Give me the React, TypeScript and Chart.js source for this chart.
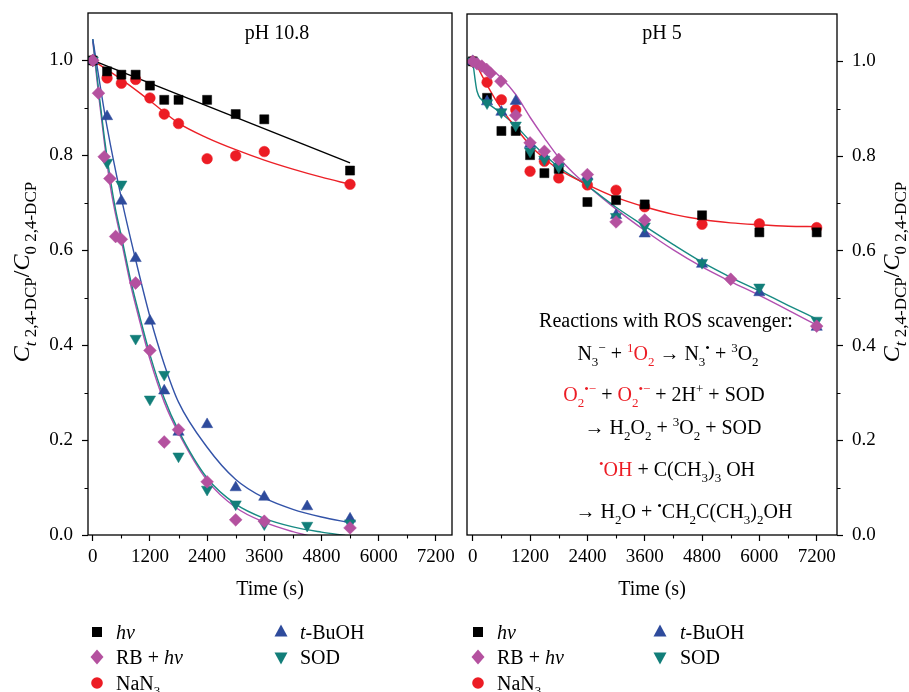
import React, { useEffect, useRef } from 'react';
import { Chart, registerables } from 'chart.js';
Chart.register(...registerables);

const W = 909;
const H = 692;
const SERIF = '"Liberation Serif", "DejaVu Serif", "Times New Roman", serif';

// ---------- axis ticks ----------
const xTicks = [0, 1200, 2400, 3600, 4800, 6000, 7200];
const xMinorTicks = [600, 1800, 3000, 4200, 5400, 6600];
const yTicks = [0, 0.2, 0.4, 0.6, 0.8, 1.0];
const yMinorTicks = [0.1, 0.3, 0.5, 0.7, 0.9];

// ---------- pH 10.8 (left panel) ----------
const hvTimeA = [0, 300, 600, 900, 1200, 1500, 1800, 2400, 3000, 3600, 5400];
const hvA = [1.0, 0.977, 0.97, 0.97, 0.947, 0.917, 0.917, 0.917, 0.887, 0.876, 0.768];
const nan3TimeA = [0, 300, 600, 900, 1200, 1500, 1800, 2400, 3000, 3600, 5400];
const nan3A = [1.0, 0.963, 0.952, 0.96, 0.921, 0.887, 0.867, 0.793, 0.799, 0.808, 0.739];
const rbTimeA = [0, 120, 240, 360, 480, 600, 900, 1200, 1500, 1800, 2400, 3000, 3600, 5400];
const rbA = [1.0, 0.931, 0.797, 0.751, 0.629, 0.623, 0.531, 0.389, 0.196, 0.222, 0.112, 0.032, 0.029, 0.015];
const tbuTimeA = [0, 300, 600, 900, 1200, 1500, 1800, 2400, 3000, 3600, 4500, 5400];
const tbuA = [1.0, 0.882, 0.704, 0.583, 0.451, 0.304, 0.217, 0.233, 0.1, 0.08, 0.06, 0.034];
const sodTimeA = [0, 300, 600, 900, 1200, 1500, 1800, 2400, 3000, 3600, 4500, 5400];
const sodA = [1.0, 0.785, 0.739, 0.414, 0.286, 0.338, 0.166, 0.096, 0.065, 0.023, 0.02, 0.025];

// fitted curves, pH 10.8
const hvFitTimeA = [0, 5400];
const hvFitA = [1.0, 0.784];
const nan3FitTimeA = [0, 600, 1200, 1800, 2400, 3000, 3600, 4200, 4800, 5400];
const nan3FitA = [1.0, 0.96, 0.915, 0.868, 0.837, 0.812, 0.79, 0.771, 0.754, 0.739];
const tbuFitTimeA = [0, 150, 300, 600, 900, 1200, 1500, 1800, 2400, 3000, 3600, 4200, 4800, 5400];
const tbuFitA = [1.045, 0.95, 0.86, 0.71, 0.58, 0.46, 0.36, 0.28, 0.185, 0.117, 0.078, 0.054, 0.038, 0.026];
const rbFitTimeA = [0, 120, 240, 360, 480, 600, 800, 1000, 1200, 1500, 1800, 2400, 3000, 3600, 4200, 4600];
const rbFitA = [1.04, 0.93, 0.83, 0.74, 0.675, 0.62, 0.525, 0.445, 0.37, 0.28, 0.215, 0.115, 0.058, 0.027, 0.007, -0.003];
const sodFitTimeA = [0, 120, 240, 360, 480, 600, 800, 1000, 1200, 1500, 1800, 2400, 3000, 3600, 4200, 4800, 5300];
const sodFitA = [1.045, 0.94, 0.84, 0.755, 0.685, 0.63, 0.535, 0.455, 0.38, 0.288, 0.22, 0.12, 0.065, 0.035, 0.017, 0.006, -0.001];

// ---------- pH 5 (right panel) ----------
const hvTimeB = [0, 300, 600, 900, 1200, 1500, 1800, 2400, 3000, 3600, 4800, 6000, 7200];
const hvB = [1.0, 0.923, 0.853, 0.853, 0.802, 0.764, 0.773, 0.703, 0.707, 0.698, 0.675, 0.639, 0.639];
const nan3TimeB = [0, 300, 600, 900, 1200, 1500, 1800, 2400, 3000, 3600, 4800, 6000, 7200];
const nan3B = [1.0, 0.956, 0.919, 0.898, 0.768, 0.789, 0.754, 0.739, 0.728, 0.693, 0.656, 0.657, 0.649];
const rbTimeB = [0, 90, 190, 290, 370, 590, 900, 1200, 1500, 1800, 2400, 3000, 3600, 5400, 7200];
const rbB = [1.0, 0.995, 0.99, 0.983, 0.975, 0.958, 0.886, 0.828, 0.81, 0.793, 0.761, 0.661, 0.665, 0.54, 0.441];
const tbuTimeB = [0, 300, 600, 900, 1200, 1500, 1800, 2400, 3000, 3600, 4800, 6000, 7200];
const tbuB = [1.0, 0.915, 0.893, 0.916, 0.825, 0.8, 0.785, 0.758, 0.675, 0.636, 0.572, 0.512, 0.439];
const sodTimeB = [0, 300, 600, 900, 1200, 1500, 1800, 2400, 3000, 3600, 4800, 6000, 7200];
const sodB = [1.0, 0.912, 0.893, 0.865, 0.81, 0.793, 0.777, 0.745, 0.672, 0.652, 0.575, 0.523, 0.453];

// fitted curves, pH 5
const nan3FitTimeB = [0, 300, 600, 900, 1200, 1500, 1800, 2400, 3000, 3600, 4200, 4800, 5400, 6000, 6600, 7200];
const nan3FitB = [1.008, 0.95, 0.9, 0.86, 0.823, 0.795, 0.772, 0.74, 0.713, 0.693, 0.677, 0.666, 0.659, 0.655, 0.652, 0.651];
const rbFitTimeB = [0, 300, 600, 900, 1200, 1500, 1800, 2100, 2400, 3000, 3600, 4200, 4800, 5400, 6000, 6600, 7200];
const rbFitB = [1.005, 0.99, 0.965, 0.93, 0.882, 0.838, 0.797, 0.765, 0.738, 0.688, 0.643, 0.602, 0.566, 0.535, 0.506, 0.475, 0.443];
const sodFitTimeB = [0, 90, 270, 600, 900, 1200, 1500, 1800, 2400, 3000, 3600, 4200, 4800, 5400, 6000, 6600, 7200];
const sodFitB = [1.0, 0.937, 0.915, 0.89, 0.864, 0.832, 0.803, 0.777, 0.737, 0.692, 0.652, 0.613, 0.576, 0.544, 0.515, 0.485, 0.456];

// ---------- colours ----------
const C_BLACK = '#000000';
const C_RED = '#ec1c24';
const C_PURPLE = '#b4519f';
const C_BLUE = '#2e4b9c';
const C_TEAL = '#127e79';
const L_RED = '#ec2027';
const L_PURPLE = '#b14fb0';
const L_BLUE = '#3353a8';
const L_TEAL = '#178a83';

const pts = (xs: number[], ys: number[]) => xs.map((x, i) => ({ x, y: ys[i] }));

const marker = (label: string, xs: number[], ys: number[], style: string, color: string, r: number, order: number, rot = 0) => ({
  label,
  data: pts(xs, ys),
  showLine: false,
  pointStyle: style,
  pointRadius: r,
  pointHoverRadius: r,
  pointBackgroundColor: color,
  pointBorderColor: color,
  pointBorderWidth: 0.5,
  pointRotation: rot,
  order,
});

const fit = (label: string, xs: number[], ys: number[], color: string, order: number) => ({
  label,
  data: pts(xs, ys),
  showLine: true,
  borderColor: color,
  borderWidth: 1.4,
  pointRadius: 0,
  pointHoverRadius: 0,
  cubicInterpolationMode: 'monotone',
  fill: false,
  order,
});

const datasetsA = [
  marker('RB + hν', rbTimeA, rbA, 'rectRot', C_PURPLE, 6.4, 1),
  marker('SOD', sodTimeA, sodA, 'triangle', C_TEAL, 6.5, 2, 180),
  marker('t-BuOH', tbuTimeA, tbuA, 'triangle', C_BLUE, 6.5, 3),
  marker('hν', hvTimeA, hvA, 'rect', C_BLACK, 6.4, 4),
  marker('NaN3', nan3TimeA, nan3A, 'circle', C_RED, 5.3, 5),
  fit('hν fit', hvFitTimeA, hvFitA, C_BLACK, 10),
  fit('NaN3 fit', nan3FitTimeA, nan3FitA, L_RED, 11),
  fit('t-BuOH fit', tbuFitTimeA, tbuFitA, L_BLUE, 12),
  fit('SOD fit', sodFitTimeA, sodFitA, L_TEAL, 13),
  fit('RB fit', rbFitTimeA, rbFitA, L_PURPLE, 14),
];

const datasetsB = [
  marker('RB + hν', rbTimeB, rbB, 'rectRot', C_PURPLE, 6.4, 1),
  marker('SOD', sodTimeB, sodB, 'triangle', C_TEAL, 6.5, 2, 180),
  marker('t-BuOH', tbuTimeB, tbuB, 'triangle', C_BLUE, 6.5, 3),
  marker('hν', hvTimeB, hvB, 'rect', C_BLACK, 6.4, 4),
  marker('NaN3', nan3TimeB, nan3B, 'circle', C_RED, 5.3, 5),
  fit('NaN3 fit', nan3FitTimeB, nan3FitB, L_RED, 11),
  fit('SOD fit', sodFitTimeB, sodFitB, L_TEAL, 12),
  fit('RB fit', rbFitTimeB, rbFitB, L_PURPLE, 13),
];

// ---------- rich text ----------
type Seg = { t: string; c?: string; it?: boolean; sub?: boolean; sup?: boolean };
const fontFor = (s: Seg, size: number, small: number) =>
  `${s.it ? 'italic ' : ''}${s.sub || s.sup ? Math.round(size * small) : size}px ${SERIF}`;

function drawRich(ctx: CanvasRenderingContext2D, segs: Seg[], x: number, y: number, size: number, align: 'left' | 'center' | 'right', small = 0.65) {
  ctx.textAlign = 'left';
  ctx.textBaseline = 'alphabetic';
  let total = 0;
  for (const s of segs) {
    ctx.font = fontFor(s, size, small);
    total += ctx.measureText(s.t).width;
  }
  let cx = align === 'center' ? x - total / 2 : align === 'right' ? x - total : x;
  for (const s of segs) {
    ctx.font = fontFor(s, size, small);
    ctx.fillStyle = s.c || '#000';
    const dy = s.sub ? size * 0.28 : s.sup ? -size * 0.4 : 0;
    ctx.fillText(s.t, cx, y + dy);
    cx += ctx.measureText(s.t).width;
  }
}

function drawMarker(ctx: CanvasRenderingContext2D, kind: string, x: number, y: number, color: string) {
  ctx.fillStyle = color;
  ctx.beginPath();
  if (kind === 'square') {
    ctx.rect(x - 5, y - 5, 10, 10);
  } else if (kind === 'diamond') {
    ctx.moveTo(x, y - 7.5); ctx.lineTo(x + 6.5, y); ctx.lineTo(x, y + 7.5); ctx.lineTo(x - 6.5, y); ctx.closePath();
  } else if (kind === 'circle') {
    ctx.arc(x, y, 5.8, 0, Math.PI * 2);
  } else if (kind === 'up') {
    ctx.moveTo(x, y - 7.5); ctx.lineTo(x + 6.5, y + 4.5); ctx.lineTo(x - 6.5, y + 4.5); ctx.closePath();
  } else if (kind === 'down') {
    ctx.moveTo(x, y + 7.5); ctx.lineTo(x + 6.5, y - 4.5); ctx.lineTo(x - 6.5, y - 4.5); ctx.closePath();
  }
  ctx.fill();
}

const yTitle: Seg[] = [
  { t: 'C', it: true },
  { t: 't', it: true, sub: true },
  { t: ' 2,4-DCP', sub: true },
  { t: '/' },
  { t: 'C', it: true },
  { t: '0 2,4-DCP', sub: true },
];

const equations: { segs: Seg[]; x: number; y: number }[] = [
  { segs: [{ t: 'Reactions with ROS scavenger:' }], x: 666, y: 327 },
  {
    segs: [
      { t: 'N' }, { t: '3', sub: true }, { t: '\u2212', sup: true }, { t: ' + ' },
      { t: '1', sup: true, c: C_RED }, { t: 'O', c: C_RED }, { t: '2', sub: true, c: C_RED },
      { t: ' \u2192 N' }, { t: '3', sub: true }, { t: '\u2022', sup: true }, { t: ' + ' },
      { t: '3', sup: true }, { t: 'O' }, { t: '2', sub: true },
    ], x: 668, y: 360,
  },
  {
    segs: [
      { t: 'O', c: C_RED }, { t: '2', sub: true, c: C_RED }, { t: '\u2022\u2212', sup: true, c: C_RED }, { t: ' + ' },
      { t: 'O', c: C_RED }, { t: '2', sub: true, c: C_RED }, { t: '\u2022\u2212', sup: true, c: C_RED },
      { t: ' + 2H' }, { t: '+', sup: true }, { t: ' + SOD' },
    ], x: 664, y: 401,
  },
  {
    segs: [
      { t: '\u2192 H' }, { t: '2', sub: true }, { t: 'O' }, { t: '2', sub: true }, { t: ' + ' },
      { t: '3', sup: true }, { t: 'O' }, { t: '2', sub: true }, { t: ' + SOD' },
    ], x: 673, y: 434,
  },
  {
    segs: [
      { t: '\u2022', sup: true, c: C_RED }, { t: 'OH', c: C_RED }, { t: ' + C(CH' }, { t: '3', sub: true },
      { t: ')' }, { t: '3', sub: true }, { t: ' OH' },
    ], x: 677, y: 476,
  },
  {
    segs: [
      { t: '\u2192 H' }, { t: '2', sub: true }, { t: 'O + ' }, { t: '\u2022', sup: true }, { t: 'CH' },
      { t: '2', sub: true }, { t: 'C(CH' }, { t: '3', sub: true }, { t: ')' }, { t: '2', sub: true }, { t: 'OH' },
    ], x: 684, y: 518,
  },
];

function makeDecor(side: 'A' | 'B') {
  return {
    id: 'decor' + side,
    afterDraw(chart: any) {
      const ctx: CanvasRenderingContext2D = chart.ctx;
      const ca = chart.chartArea;
      const xs = chart.scales.x;
      const ys = chart.scales.y;
      ctx.save();
      // frame
      ctx.strokeStyle = '#000';
      ctx.lineWidth = 1.3;
      ctx.strokeRect(ca.left, ca.top, ca.right - ca.left, ca.bottom - ca.top);
      // minor ticks
      ctx.lineWidth = 1.1;
      ctx.beginPath();
      for (const v of xMinorTicks) {
        const px = Math.round(xs.getPixelForValue(v)) + 0.5;
        ctx.moveTo(px, ca.bottom);
        ctx.lineTo(px, ca.bottom + 3.5);
      }
      for (const v of yMinorTicks) {
        const py = Math.round(ys.getPixelForValue(v)) + 0.5;
        if (side === 'A') {
          ctx.moveTo(ca.left, py);
          ctx.lineTo(ca.left - 3.5, py);
        } else {
          ctx.moveTo(ca.right, py);
          ctx.lineTo(ca.right + 3.5, py);
        }
      }
      ctx.stroke();

      const cx = (ca.left + ca.right) / 2;
      // panel label
      drawRich(ctx, [{ t: side === 'A' ? 'pH 10.8' : 'pH 5' }], side === 'A' ? 277 : 662, 39, 20, 'center');
      // x title
      drawRich(ctx, [{ t: 'Time (s)' }], cx, 595, 20, 'center');
      // y title (rotated)
      ctx.save();
      ctx.translate(side === 'A' ? 22 : 892, 272);
      ctx.rotate(-Math.PI / 2);
      drawRich(ctx, yTitle, 0, 7, 24, 'center', 0.7);
      ctx.restore();

      // legend
      const c1 = side === 'A' ? 97 : 478;
      const c2 = side === 'A' ? 281 : 660;
      const t1 = side === 'A' ? 116 : 497;
      const t2 = side === 'A' ? 300 : 680;
      const rows = [632, 657, 683];
      drawMarker(ctx, 'square', c1, rows[0], C_BLACK);
      drawRich(ctx, [{ t: 'hν', it: true }], t1, rows[0] + 6.5, 20, 'left');
      drawMarker(ctx, 'diamond', c1, rows[1], C_PURPLE);
      drawRich(ctx, [{ t: 'RB + ' }, { t: 'hν', it: true }], t1, rows[1] + 6.5, 20, 'left');
      drawMarker(ctx, 'circle', c1, rows[2], C_RED);
      drawRich(ctx, [{ t: 'NaN' }, { t: '3', sub: true }], t1, rows[2] + 6.5, 20, 'left');
      drawMarker(ctx, 'up', c2, rows[0], C_BLUE);
      drawRich(ctx, [{ t: 't', it: true }, { t: '-BuOH' }], t2, rows[0] + 6.5, 20, 'left');
      drawMarker(ctx, 'down', c2, rows[1], C_TEAL);
      drawRich(ctx, [{ t: 'SOD' }], t2, rows[1] + 6.5, 20, 'left');

      if (side === 'B') {
        for (const e of equations) drawRich(ctx, e.segs, e.x, e.y, 20, 'center');
      }
      ctx.restore();
    },
  };
}

const zeroPad = (s: any) => {
  s.paddingTop = 0;
  s.paddingBottom = 0;
  s.paddingLeft = 0;
  s.paddingRight = 0;
};

function makeOptions(side: 'A' | 'B'): any {
  const isA = side === 'A';
  const tickFont = { family: SERIF, size: 19 };
  const grid = { drawOnChartArea: false, drawTicks: true, tickLength: 6, tickColor: '#000', tickWidth: 1.2 };
  return {
    animation: false,
    responsive: false,
    maintainAspectRatio: false,
    events: [],
    layout: { padding: isA ? { left: 0, right: W - 452, top: 13, bottom: 0 } : { left: 467, right: 0, top: 14, bottom: 0 } },
    plugins: { legend: { display: false }, tooltip: { enabled: false }, title: { display: false } },
    scales: {
      x: {
        type: 'linear',
        position: 'bottom',
        min: isA ? -100 : -120,
        max: isA ? 7540 : 7625,
        afterBuildTicks: (s: any) => { s.ticks = xTicks.map((v) => ({ value: v })); },
        afterFit: (s: any) => { s.height = H - 535; zeroPad(s); },
        ticks: { callback: (v: any) => String(v), font: tickFont, color: '#000', padding: 5, maxRotation: 0, autoSkip: false },
        grid,
        border: { display: false },
      },
      y: {
        type: 'linear',
        position: isA ? 'left' : 'right',
        min: 0,
        max: 1.1,
        afterBuildTicks: (s: any) => { s.ticks = yTicks.map((v) => ({ value: v })); },
        afterFit: (s: any) => { s.width = isA ? 88 : W - 837; zeroPad(s); },
        ticks: { callback: (v: any) => Number(v).toFixed(1), font: tickFont, color: '#000', padding: 9, autoSkip: false },
        grid,
        border: { display: false },
      },
    },
  };
}

export default function App() {
  const refA = useRef<HTMLCanvasElement>(null);
  const refB = useRef<HTMLCanvasElement>(null);
  useEffect(() => {
    const a = new Chart(refA.current as HTMLCanvasElement, {
      type: 'scatter',
      data: { datasets: datasetsA as any },
      options: makeOptions('A'),
      plugins: [makeDecor('A')],
    });
    const b = new Chart(refB.current as HTMLCanvasElement, {
      type: 'scatter',
      data: { datasets: datasetsB as any },
      options: makeOptions('B'),
      plugins: [makeDecor('B')],
    });
    return () => {
      a.destroy();
      b.destroy();
    };
  }, []);
  return (
    <div style={{ position: 'absolute', left: 0, top: 0, width: W, height: H, background: '#fff', overflow: 'hidden' }}>
      <canvas ref={refA} width={W} height={H} style={{ position: 'absolute', left: 0, top: 0, width: W, height: H }} />
      <canvas ref={refB} width={W} height={H} style={{ position: 'absolute', left: 0, top: 0, width: W, height: H }} />
    </div>
  );
}
